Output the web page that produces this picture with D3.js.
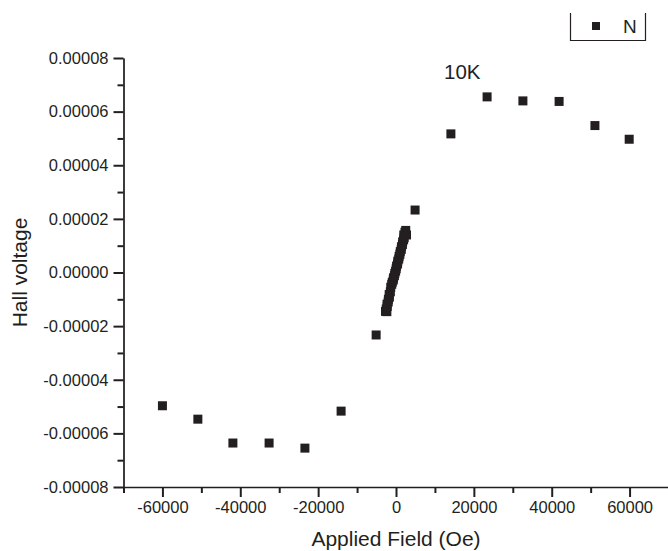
<!DOCTYPE html>
<html>
<head>
<meta charset="utf-8">
<script src="https://cdn.jsdelivr.net/npm/d3@7"></script>
<style>
  body { margin: 0; background: #fff; }
  svg { display: block; font-family: "Liberation Sans", Arial, sans-serif; }
  .axis path, .axis line { stroke: #231f20; }
  .axis text { fill: #231f20; font-size: 16.5px; }
</style>
</head>
<body>
<svg class="hall-svg"></svg>
<script>
// Hall voltage vs applied field, 10K
const fieldOe = [
  -60000, -50900, -41900, -32600, -23400, -14100, -5100,
  -2700, -2350, -2500, -2250, -2300, -2000, -1950, -1700, -1750, -1450,
  -1350, -1100, -950, -700, -650, -400, -300, -100, 50, 150, 400, 450,
  700, 800, 1000, 1100, 1350, 1400, 1650, 1700, 1950, 2100, 2000, 2300,
  2500, 2700,
  4900, 14100, 23400, 32600, 41900, 51100, 59900
]
const hallV = [
  -0.0000497, -0.0000547, -0.0000636, -0.0000636, -0.0000655, -0.0000517, -0.0000233,
  -0.0000145, -0.0000146, -0.0000136, -0.0000127, -0.0000118, -0.0000110, -0.0000100, -0.0000092, -0.0000082, -0.0000072,
  -0.0000055, -0.0000044, -0.0000036, -0.0000028, -0.0000020, -0.0000012, -0.0000003, 0.0000005, 0.0000014, 0.0000024, 0.0000032, 0.0000042,
  0.0000050, 0.0000060, 0.0000068, 0.0000078, 0.0000086, 0.0000096, 0.0000104, 0.0000114, 0.0000122, 0.0000130, 0.0000140, 0.0000150,
  0.0000157, 0.0000140,
  0.0000233, 0.0000517, 0.0000655, 0.0000640, 0.0000638, 0.0000548, 0.0000497
]
const xMajor = [-60000, -40000, -20000, 0, 20000, 40000, 60000]
const xMinor = [-70000, -50000, -30000, -10000, 10000, 30000, 50000, 70000]
const yMajor = [-0.00008, -0.00006, -0.00004, -0.00002, 0, 0.00002, 0.00004, 0.00006, 0.00008]
const yMinor = [-0.00007, -0.00005, -0.00003, -0.00001, 0.00001, 0.00003, 0.00005, 0.00007]
const seriesName = 'N'
const tempLabel = '10K'

const width = 668
const height = 551
const ink = '#231f20'

const svg = d3.select('.hall-svg')
    .attr('width', width)
    .attr('height', height)

const x = d3.scaleLinear()
    .domain([ -70000, 70000 ])
    .range([ 123.5, 668.5 ])

const y = d3.scaleLinear()
    .domain([ -0.00008, 0.00008 ])
    .range([ 487, 58 ])

const fix = s => s.replace('\u2212', '-')

// minor ticks first, then the major axis on top
svg.append('g')
    .attr('class', 'axis')
    .attr('transform', `translate(0, ${y(-0.00008)})`)
    .call(d3.axisBottom(x).tickValues(xMinor).tickSize(6).tickSizeOuter(0).tickFormat(''))
    .call(g => g.selectAll('line').attr('stroke-width', 2))

svg.append('g')
    .attr('class', 'axis')
    .attr('transform', `translate(0, ${y(-0.00008)})`)
    .call(d3.axisBottom(x).tickValues(xMajor).tickSize(10).tickSizeOuter(0).tickPadding(4)
        .tickFormat(d => fix(d3.format('d')(d))))
    .call(g => g.select('.domain').attr('stroke-width', 1.5))
    .call(g => g.selectAll('line').attr('stroke-width', 2))

svg.append('g')
    .attr('class', 'axis')
    .attr('transform', `translate(${x(-70000)}, 0)`)
    .call(d3.axisLeft(y).tickValues(yMinor).tickSize(6).tickSizeOuter(0).tickFormat(''))
    .call(g => g.selectAll('line').attr('stroke-width', 2))

svg.append('g')
    .attr('class', 'axis')
    .attr('transform', `translate(${x(-70000)}, 0)`)
    .call(d3.axisLeft(y).tickValues(yMajor).tickSize(10).tickSizeOuter(0).tickPadding(5)
        .tickFormat(d => fix(d3.format('.5f')(d))))
    .call(g => g.select('.domain').attr('stroke-width', 1.5))
    .call(g => g.selectAll('line').attr('stroke-width', 2))

// axis titles
svg.append('text')
    .attr('x', x(0))
    .attr('y', 546)
    .attr('text-anchor', 'middle')
    .attr('font-size', 21)
    .attr('fill', ink)
    .text('Applied Field (Oe)')

svg.append('text')
    .attr('transform', `translate(27, ${y(0)}) rotate(-90)`)
    .attr('text-anchor', 'middle')
    .attr('font-size', 21)
    .attr('fill', ink)
    .text('Hall voltage')

svg.append('text')
    .attr('x', 444)
    .attr('y', 79)
    .attr('font-size', 20.5)
    .attr('fill', ink)
    .text(tempLabel)

// points
const sq = 9
svg.selectAll('.pt')
    .data(fieldOe.map((f, i) => ({ f, v: hallV[i] })))
    .enter()
    .append('rect')
    .attr('class', 'pt')
    .attr('x', d => x(d.f) - sq/2)
    .attr('y', d => y(d.v) - sq/2)
    .attr('width', sq)
    .attr('height', sq)
    .attr('fill', ink)

// legend (top edge is cut off in the original)
const leg = svg.append('g')
leg.append('path')
    .attr('d', 'M570.5,13 V40.5 H645.5 V13')
    .attr('fill', 'none')
    .attr('stroke', ink)
    .attr('stroke-width', 1.2)
leg.append('rect')
    .attr('x', 592)
    .attr('y', 22)
    .attr('width', 8)
    .attr('height', 8)
    .attr('fill', ink)
leg.append('text')
    .attr('x', 623)
    .attr('y', 33)
    .attr('font-size', 19)
    .attr('fill', ink)
    .text(seriesName)
</script>
</body>
</html>
